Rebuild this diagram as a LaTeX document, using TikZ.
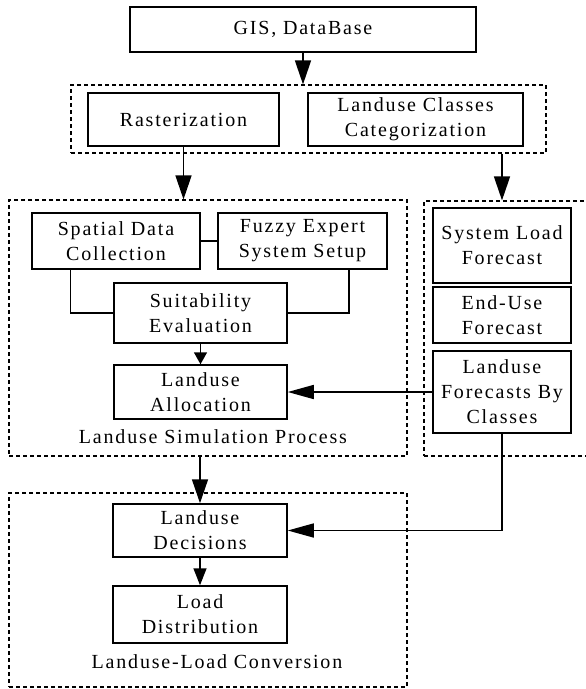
\documentclass[tikz,border=0pt]{standalone}
\usepackage{fontspec}
\setmainfont{Liberation Serif}[LetterSpace=9]
\usetikzlibrary{arrows.meta}

\begin{document}
\begin{tikzpicture}[x=1pt, y=-1pt,
    box/.style={draw, line width=1.5pt, align=center, inner sep=0pt,
        font=\fontsize{20}{25}\selectfont},
    grp/.style={draw, line width=1.2pt, dash pattern=on 4pt off 3pt, inner sep=0pt},
    lbl/.style={inner sep=0pt, font=\fontsize{20}{25}\selectfont},
    conn/.style={line width=1.5pt},
    bigarr/.style={conn, -{Triangle[length=24pt, width=16pt]}},
    sidearr/.style={conn, -{Triangle[length=26pt, width=14pt]}},
    midarr/.style={conn, -{Triangle[length=17pt, width=13pt]}},
    smallarr/.style={conn, -{Triangle[length=12pt, width=13pt]}}]
    \useasboundingbox (0, 0) rectangle (586, 689);

    % 虚线分组框
    \node[grp, minimum width=475pt, minimum height=68pt] (gtop) at (308.5, 119) {};
    \node[grp, minimum width=398pt, minimum height=256pt] (gsim) at (208, 328) {};
    \node[grp, minimum width=166pt, minimum height=255pt] (gfc) at (507, 328.5) {};
    \node[grp, minimum width=398pt, minimum height=194pt] (gconv) at (208, 590) {};

    % 顶部数据与预处理
    \node[box, minimum width=346pt, minimum height=45pt] (gis) at (303, 29.5) {GIS, DataBase};
    \node[box, minimum width=191pt, minimum height=53pt] (rast) at (183.5, 119.5) {Rasterization};
    \node[box, minimum width=215pt, minimum height=53pt] (cls) at (415.5, 119.5) {Landuse Classes\\Categorization};

    % 土地利用模拟过程
    \node[box, minimum width=168pt, minimum height=56pt] (sdc) at (116, 241) {Spatial Data\\Collection};
    \node[box, minimum width=169pt, minimum height=56pt] (fes) at (302.5, 241) {Fuzzy Expert\\System Setup};
    \node[box, minimum width=173pt, minimum height=60pt] (suit) at (200.5, 313) {Suitability\\Evaluation};
    \node[box, minimum width=173pt, minimum height=54pt] (alloc) at (200.5, 392) {Landuse\\Allocation};
    \node[lbl] (simlbl) at (213, 437) {Landuse Simulation Process};

    % 负荷预测
    \node[box, minimum width=138pt, minimum height=75pt] (slf) at (502, 245.5) {System Load\\Forecast};
    \node[box, minimum width=138pt, minimum height=56pt] (euf) at (502, 315) {End-Use\\Forecast};
    \node[box, minimum width=138pt, minimum height=82pt] (lfc) at (502, 392) {Landuse\\Forecasts By\\Classes};

    % 土地利用-负荷转换
    \node[box, minimum width=174pt, minimum height=53pt] (dec) at (200, 530.5) {Landuse\\Decisions};
    \node[box, minimum width=174pt, minimum height=57pt] (ldist) at (200, 614.5) {Load\\Distribution};
    \node[lbl] (convlbl) at (217, 662) {Landuse-Load Conversion};

    % 连线
    \draw[bigarr] (gis.south) -- (gis.south |- gtop.north);
    \draw[bigarr] (rast.south) -- (rast.south |- gsim.north);
    \draw[bigarr] (lfc |- gtop.south) -- (lfc |- gfc.north);
    \draw[conn] (sdc.east) -- (fes.west);
    \draw[conn] ([xshift=39pt]sdc.south west) |- (suit.west);
    \draw[conn] ([xshift=-39pt]fes.south east) |- (suit.east);
    \draw[smallarr] (suit.south) -- (alloc.north);
    \draw[sidearr] (lfc.west) -- (alloc.east);
    \draw[bigarr] (dec |- gsim.south) -- (dec.north);
    \draw[sidearr] (lfc.south) |- (dec.east);
    \draw[midarr] (dec.south) -- (ldist.north);
\end{tikzpicture}
\end{document}
